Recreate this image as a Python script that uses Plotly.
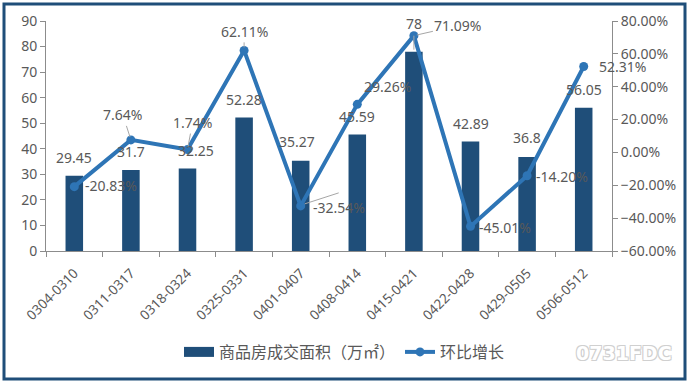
import plotly.graph_objects as go

categories = ["0304-0310", "0311-0317", "0318-0324", "0325-0331", "0401-0407",
              "0408-0414", "0415-0421", "0422-0428", "0429-0505", "0506-0512"]
area = [29.45, 31.7, 32.25, 52.28, 35.27, 45.59, 78, 42.89, 36.8, 56.05]
growth = [-20.83, 7.64, 1.74, 62.11, -32.54, 29.26, 71.09, -45.01, -14.20, 52.31]
area_text = ["29.45", "31.7", "32.25", "52.28", "35.27", "45.59", "78", "42.89", "36.8", "56.05"]
growth_text = ["-20.83%", "7.64%", "1.74%", "62.11%", "-32.54%", "29.26%", "71.09%", "-45.01%", "-14.20%", "52.31%"]

# label placement (pixel offsets) - styling only
bar_lbl_dx = [0, 0, 8, 0, -4, 0, 0, 0, 0, 0]
bar_lbl_dy = [18, 18, 18, 18, 19, 18, 28, 18, 19, 18]
line_lbl_ax = [37, -8, 5, 0, 38, 30, 44, 34, 35, 39]
line_lbl_ay = [-1, -25, -27, -19, 2, -18, -10, 1, 1, 0]
line_lbl_arrow = [False, True, True, True, False, False, True, False, False, False]

BAR = "#1F4E79"
LINE = "#2E75B6"
TXT = "#595959"
AX = "#8C8C8C"
FONT = "Noto Sans, Noto Sans CJK SC, sans-serif"

fig = go.Figure()
fig.add_trace(go.Bar(x=categories, y=area, name="商品房成交面积（万㎡）",
                     marker=dict(color=BAR, line=dict(width=0)), width=0.31,
                     yaxis="y", showlegend=False))
fig.add_trace(go.Scatter(x=[None], y=[None], name="商品房成交面积（万㎡）", mode="lines",
                         line=dict(color=BAR, width=10), yaxis="y", hoverinfo="skip"))
fig.add_trace(go.Scatter(x=categories, y=growth, name="环比增长", mode="lines+markers",
                         line=dict(color=LINE, width=4), marker=dict(color=LINE, size=9),
                         yaxis="y2"))

ann = []
for i, c in enumerate(categories):
    ann.append(dict(x=c, y=area[i], xref="x", yref="y", text=area_text[i], showarrow=False,
                    xshift=bar_lbl_dx[i], yshift=bar_lbl_dy[i], yanchor="middle",
                    font=dict(size=14, color=TXT, family=FONT)))
    if line_lbl_arrow[i]:
        ann.append(dict(x=c, y=growth[i], xref="x", yref="y2", text=growth_text[i],
                        showarrow=True, arrowhead=0, arrowwidth=1, arrowcolor="#A6A6A6",
                        ax=line_lbl_ax[i], ay=line_lbl_ay[i], standoff=3,
                        font=dict(size=14, color=TXT, family=FONT)))
    else:
        ann.append(dict(x=c, y=growth[i], xref="x", yref="y2", text=growth_text[i],
                        showarrow=False, xshift=line_lbl_ax[i], yshift=-line_lbl_ay[i],
                        font=dict(size=14, color=TXT, family=FONT)))

shapes = [
    dict(type="line", xref="x", yref="y2", xsizemode="pixel", ysizemode="pixel",
         xanchor=categories[4], yanchor=growth[4], x0=4, y0=2, x1=38, y1=13,
         line=dict(color="#A6A6A6", width=1)),
    dict(type="line", xref="x", yref="y", xsizemode="pixel", ysizemode="pixel",
         xanchor=categories[6], yanchor=area[6], x0=0, y0=2, x1=0, y1=16,
         line=dict(color="#A6A6A6", width=1)),
    dict(type="rect", xref="paper", yref="paper",
         x0=(4 - 46) / 566, x1=(685 - 46) / 566, y0=(251 - 379) / 230, y1=(251 - 4) / 230,
         line=dict(color="#1F4E79", width=3), fillcolor="rgba(0,0,0,0)", layer="below"),
]

ann.append(dict(xref="paper", yref="paper", x=(624 - 46) / 566, y=(251 - 353) / 230,
                text="<b>0731FDC</b>", showarrow=False, xanchor="center", yanchor="middle",
                font=dict(size=19, color="#FFFFFF", family="DejaVu Sans, sans-serif",
                          shadow="1px 1px 0 #D0D0D0, -1px -1px 0 #D0D0D0, 1px -1px 0 #D0D0D0, -1px 1px 0 #D0D0D0")))

fig.update_layout(
    width=689, height=382,
    margin=dict(l=46, r=77, t=21, b=131),
    paper_bgcolor="white", plot_bgcolor="white",
    font=dict(family=FONT, color=TXT, size=14),
    showlegend=True,
    legend=dict(orientation="h", xref="container", yref="container", x=0.5, xanchor="center",
                y=1 - 352 / 382, yanchor="middle", font=dict(size=16, color=TXT, family=FONT),
                itemwidth=30, bgcolor="rgba(0,0,0,0)"),
    xaxis=dict(type="category", range=[-0.5, 9.5], showline=True, linecolor=AX, linewidth=1,
               ticks="outside", tickson="boundaries", ticklen=5, tickcolor=AX,
               tickangle=-45, tickfont=dict(size=13.5, color=TXT), ticklabelstandoff=8,
               showgrid=False, automargin=False),
    yaxis=dict(range=[0, 90], dtick=10, showline=True, linecolor=AX, linewidth=1,
               ticks="outside", ticklen=5, tickcolor=AX, showgrid=False, zeroline=False,
               tickfont=dict(size=14, color=TXT), automargin=False),
    yaxis2=dict(range=[-60, 80], dtick=20, overlaying="y", side="right", showline=True,
                linecolor=AX, linewidth=1, ticks="outside", ticklen=5, tickcolor=AX,
                tickformat=".2f", ticksuffix="%", showgrid=False, zeroline=False,
                tickfont=dict(size=14, color=TXT), automargin=False),
    annotations=ann, shapes=shapes,
)

fig.write_html("out.html", config={"displayModeBar": False},
               post_script="document.body.style.margin='0';document.body.style.overflow='hidden';")
